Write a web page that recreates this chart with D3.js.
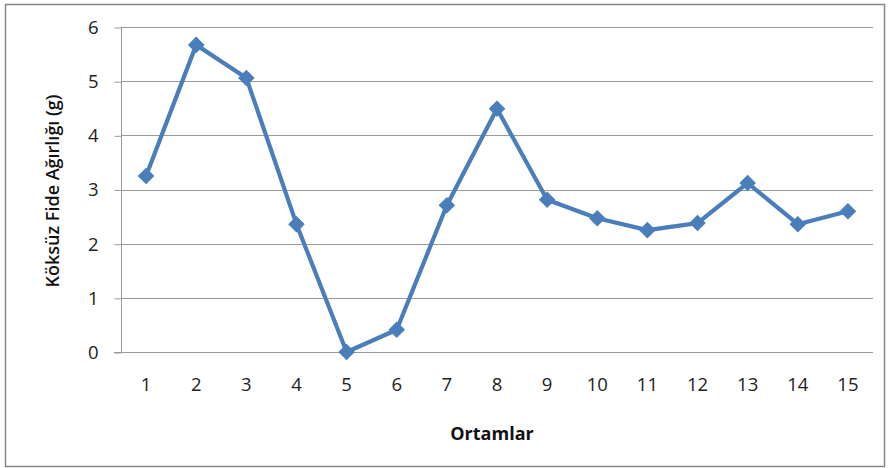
<!DOCTYPE html>
<html>
<head>
<meta charset="utf-8">
<script src="https://cdn.jsdelivr.net/npm/d3@7"></script>
<style>
  html, body { margin: 0; padding: 0; background: #fff; }
  svg { display: block; }
</style>
</head>
<body>
<svg id="chart" width="890" height="468"></svg>
<script>
// Media (Ortamlar) and seedling dry weight values
const categories = ["1","2","3","4","5","6","7","8","9","10","11","12","13","14","15"];
const values = [3.25, 5.67, 5.06, 2.36, 0.0, 0.41, 2.71, 4.49, 2.81, 2.47, 2.25, 2.38, 3.12, 2.36, 2.60];
const yTicks = [0, 1, 2, 3, 4, 5, 6];
const xTitle = "Ortamlar";
const yTitle = "Köksüz Fide Ağırlığı (g)";

const svg = d3.select("#chart");
const font = "'Open Sans', 'Liberation Sans', sans-serif";

// outer chart frame
svg.append("rect")
  .attr("x", 5.5).attr("y", 4.5)
  .attr("width", 879).attr("height", 462)
  .attr("fill", "#fff")
  .attr("stroke", "#868686").attr("stroke-width", 1.5);

const plot = { left: 121, right: 873, top: 27, bottom: 352 };

const x = d3.scaleBand().domain(categories).range([plot.left, plot.right]);
const y = d3.scaleLinear().domain([0, 6]).range([plot.bottom, plot.top]);

// horizontal gridlines
svg.append("g")
  .selectAll("line")
  .data(yTicks.filter(d => d > 0))
  .join("line")
  .attr("x1", plot.left).attr("x2", plot.right)
  .attr("y1", d => Math.round(y(d)) + 0.5).attr("y2", d => Math.round(y(d)) + 0.5)
  .attr("stroke", "#9a9a9a").attr("stroke-width", 1);

// y axis
const yAxis = d3.axisLeft(y).tickValues(yTicks).tickSize(7).tickPadding(16).tickFormat(d3.format("d"));
const gy = svg.append("g")
  .attr("transform", `translate(${plot.left + 0.5},0.5)`)
  .call(yAxis);
gy.select(".domain").attr("stroke", "#9a9a9a").attr("d", `M0,${plot.top}V${plot.bottom}`);
gy.selectAll(".tick line").attr("stroke", "#9a9a9a");
gy.selectAll(".tick text")
  .attr("fill", "#222").attr("font-family", font).attr("font-size", 18.5);

// x axis
const xAxis = d3.axisBottom(x).tickSize(0).tickPadding(25);
const gx = svg.append("g")
  .attr("transform", `translate(0,${plot.bottom + 0.5})`)
  .call(xAxis);
gx.select(".domain").attr("stroke", "#9a9a9a").attr("d", `M${plot.left - 7},0H${plot.right}`);
gx.selectAll(".tick text")
  .attr("fill", "#222").attr("font-family", font).attr("font-size", 18.5);

// axis titles
svg.append("text")
  .attr("x", 492).attr("y", 440)
  .attr("text-anchor", "middle")
  .attr("font-family", font).attr("font-weight", "bold").attr("font-size", 18)
  .attr("fill", "#111")
  .text(xTitle);

svg.append("text")
  .attr("transform", "translate(59,191) rotate(-90)")
  .attr("text-anchor", "middle")
  .attr("font-family", font).attr("font-weight", 600).attr("font-size", 18)
  .attr("fill", "#111")
  .text(yTitle);

// series line
const cx = d => x(d) + x.bandwidth() / 2;
const line = d3.line()
  .x((d, i) => cx(categories[i]))
  .y(d => y(d));

svg.append("path")
  .datum(values)
  .attr("d", line)
  .attr("fill", "none")
  .attr("stroke", "#4a7ebb")
  .attr("stroke-width", 4.2)
  .attr("stroke-linejoin", "round");

// diamond markers
svg.append("g")
  .selectAll("path")
  .data(values)
  .join("path")
  .attr("transform", (d, i) => `translate(${cx(categories[i])},${y(d)}) rotate(45)`)
  .attr("d", d3.symbol().type(d3.symbolSquare).size(115))
  .attr("fill", "#4a7ebb")
  .attr("stroke", "#4a7ebb")
  .attr("stroke-width", 1);
</script>
</body>
</html>
